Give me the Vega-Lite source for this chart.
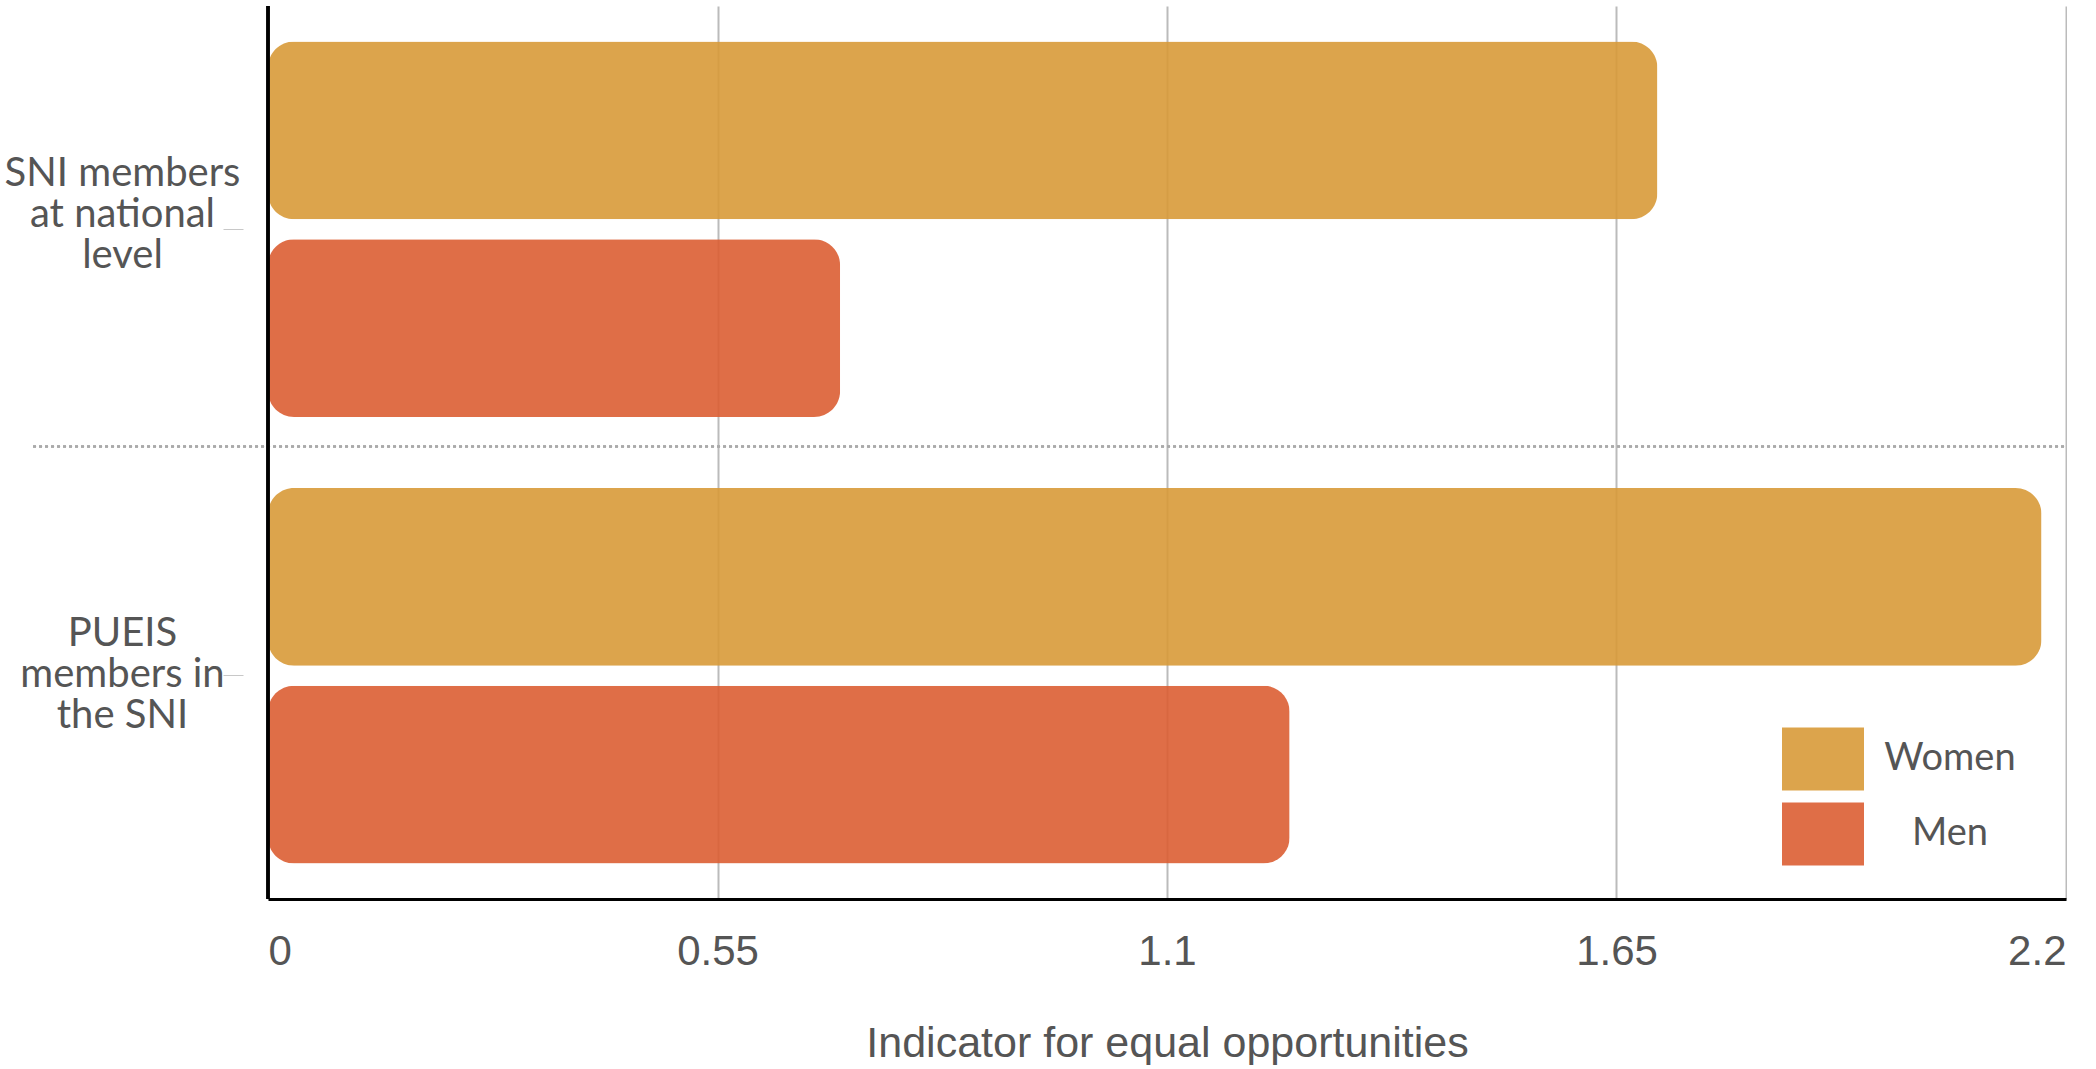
{
  "$schema": "https://vega.github.io/schema/vega-lite/v6.json",
  "width": 1798,
  "height": 893,
  "padding": {"left": 4, "top": 4, "right": 0, "bottom": 0},
  "background": "white",
  "config": {"view": {"stroke": null}},
  "data": {
    "values": [
      {"group": "SNI members at national level", "gender": "Women", "value": 1.7},
      {"group": "SNI members at national level", "gender": "Men", "value": 0.7},
      {"group": "PUEIS members in the SNI", "gender": "Women", "value": 2.17},
      {"group": "PUEIS members in the SNI", "gender": "Men", "value": 1.25}
    ]
  },
  "layer": [
    {
      "mark": {"type": "bar", "cornerRadius": 26, "opacity": 0.9},
      "encoding": {
        "y": {
          "field": "group",
          "type": "nominal",
          "sort": ["SNI members at national level", "PUEIS members in the SNI"],
          "scale": {"paddingInner": 0, "paddingOuter": 0},
          "axis": {
            "title": null,
            "domain": false,
            "offset": 25,
            "ticks": true,
            "tickSize": 20,
            "tickColor": "#c8c8c8",
            "tickWidth": 1,
            "labelAlign": "center",
            "labelBaseline": "middle",
            "labelPadding": 101,
            "labelOffset": {"condition": {"test": "datum.value == 'SNI members at national level'", "value": -55}, "value": -42},
            "labelFont": "Lato",
            "labelFontSize": 40,
            "labelLineHeight": 41,
            "labelColor": "#555555",
            "labelLimit": 0,
            "labelExpr": "datum.label == 'SNI members at national level' ? ['SNI members', 'at  national', 'level'] : ['PUEIS', 'members in', 'the SNI']"
          }
        },
        "yOffset": {
          "field": "gender",
          "sort": ["Women", "Men"],
          "scale": {"paddingInner": 0.1, "paddingOuter": 0.18}
        },
        "x": {
          "field": "value",
          "type": "quantitative",
          "scale": {"domain": [0, 2.2], "nice": false},
          "axis": {
            "title": "Indicator for equal opportunities",
            "values": [0, 0.55, 1.1, 1.65, 2.2],
            "format": "~g",
            "grid": true,
            "gridColor": "#bbbbbb",
            "gridWidth": 2,
            "domainColor": "black",
            "domainWidth": 3,
            "ticks": false,
            "labelPadding": 32,
            "labelFont": "Liberation Sans",
            "labelFontSize": 42,
            "labelColor": "#555555",
            "titleFont": "Liberation Sans",
            "titleFontSize": 43,
            "titleFontWeight": "normal",
            "titleColor": "#555555",
            "titlePadding": 50
          }
        },
        "color": {
          "field": "gender",
          "type": "nominal",
          "scale": {"domain": ["Women", "Men"], "range": ["#D89A38", "#DB5E33"]},
          "legend": {
            "title": null,
            "orient": "none",
            "legendX": 1514,
            "legendY": 712,
            "padding": 0,
            "symbolType": "M-1,-0.77H1V0.77H-1Z",
            "symbolSize": 6724,
            "symbolStrokeWidth": 0,
            "symbolOpacity": 0.9,
            "rowPadding": 2,
            "labelFont": "Lato",
            "labelFontSize": 38,
            "labelColor": "#555555",
            "labelAlign": "center",
            "labelOffset": 86
          }
        }
      }
    },
    {
      "mark": {"type": "rule", "color": "#aaaaaa", "strokeWidth": 2, "strokeDash": [3, 3], "yOffset": -6},
      "encoding": {
        "y": {"datum": "PUEIS members in the SNI", "type": "nominal", "bandPosition": 0},
        "x": {"datum": -0.2875},
        "x2": {"datum": 2.2}
      }
    },
    {
      "mark": {"type": "rule", "color": "black", "strokeWidth": 3},
      "encoding": {"x": {"datum": 0}}
    }
  ]
}
